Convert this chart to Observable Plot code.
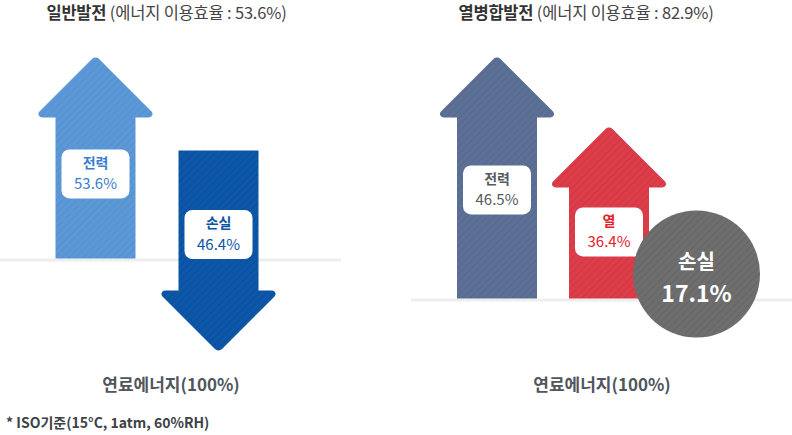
<!DOCTYPE html>
<html>
<head>
<meta charset="utf-8">
<script src="https://cdn.jsdelivr.net/npm/d3@7"></script>
<script src="https://cdn.jsdelivr.net/npm/@observablehq/plot@0.6"></script>
<style>
  html, body { margin: 0; padding: 0; background: #fff; }
  body { font-family: "Noto Sans CJK KR", "Noto Sans", sans-serif; }
  #wrap { position: relative; width: 792px; height: 435px; overflow: hidden; }
  .title { position: absolute; top: 0; height: 24px; line-height: 24px; font-size: 16.5px;
           color: #444; text-align: center; white-space: nowrap; font-weight: 400; letter-spacing: -0.2px; }
  .title b { color: #333; font-weight: 700; }
  .panel { position: absolute; top: 22px; }
  #note { position: absolute; left: 6px; top: 412px; height: 20px; line-height: 20px;
          font-size: 14px; font-weight: 700; color: #3d4247; white-space: nowrap; }
</style>
</head>
<body>
<svg width="0" height="0" style="position:absolute">
  <defs>
    <pattern id="st-lblue" width="5" height="5" patternUnits="userSpaceOnUse" patternTransform="rotate(45)">
      <rect width="5" height="5" fill="#5c98d6"/><rect width="1" height="5" fill="#5290d0"/>
    </pattern>
    <pattern id="st-dblue" width="5" height="5" patternUnits="userSpaceOnUse" patternTransform="rotate(45)">
      <rect width="5" height="5" fill="#0c57a7"/><rect width="1" height="5" fill="#0a4f9c"/>
    </pattern>
    <pattern id="st-slate" width="5" height="5" patternUnits="userSpaceOnUse" patternTransform="rotate(45)">
      <rect width="5" height="5" fill="#5c6f95"/><rect width="1" height="5" fill="#55688d"/>
    </pattern>
    <pattern id="st-red" width="5" height="5" patternUnits="userSpaceOnUse" patternTransform="rotate(45)">
      <rect width="5" height="5" fill="#dc3d49"/><rect width="1" height="5" fill="#cf3742"/>
    </pattern>
    <pattern id="st-gray" width="5" height="5" patternUnits="userSpaceOnUse" patternTransform="rotate(45)">
      <rect width="5" height="5" fill="#6e6e6e"/><rect width="1" height="5" fill="#656565"/>
    </pattern>
  </defs>
</svg>
<div id="wrap">
  <div class="title" id="t1" style="left:0;width:333px"></div>
  <div class="title" id="t2" style="left:396px;width:380px"></div>
  <div class="panel" id="p1" style="left:0"></div>
  <div class="panel" id="p2" style="left:396px"></div>
  <div id="note"></div>
</div>
<script>
// ---------- data ----------
const panelTitles = ["일반발전", "열병합발전"];
const efficiencies = [53.6, 82.9];
const fuelLabel = "연료에너지";
const fuelShare = 100;
const generalCategories = ["전력", "손실"];
const generalValues = [53.6, 46.4];
const chpCategories = ["전력", "열", "손실"];
const chpValues = [46.5, 36.4, 17.1];
const noteText = "* ISO기준(15°C, 1atm, 60%RH)";

// ---------- titles / note ----------
document.getElementById("t1").innerHTML = `<b>${panelTitles[0]}</b> (에너지 이용효율 : ${efficiencies[0]}%)`;
document.getElementById("t2").innerHTML = `<b>${panelTitles[1]}</b> (에너지 이용효율 : ${efficiencies[1]}%)`;
document.getElementById("note").textContent = noteText;

// ---------- shapes ----------
const SHAFT = 80, HEAD_W = 124, HEAD_L = 62, R_TIP = 5, R_WING = 3.5;
const arrowShape = {
  draw(ctx, l) {
    const w = SHAFT / 2, h = HEAD_W / 2, s = l - HEAD_L;
    ctx.moveTo(-w, 0);
    ctx.lineTo(-w, -s);
    ctx.arcTo(-h, -s, 0, -l, R_WING);
    ctx.arcTo(0, -l, h, -s, R_TIP);
    ctx.arcTo(h, -s, w, -s, R_WING);
    ctx.lineTo(w, -s);
    ctx.lineTo(w, 0);
    ctx.closePath();
  }
};
const boxSymbol = {
  draw(ctx) {
    const w = 34, h = 24.5, r = 8;
    ctx.moveTo(-w + r, -h);
    ctx.arcTo(w, -h, w, h, r);
    ctx.arcTo(w, h, -w, h, r);
    ctx.arcTo(-w, h, -w, -h, r);
    ctx.arcTo(-w, -h, w, -h, r);
    ctx.closePath();
  }
};

const FONT = '"Noto Sans CJK KR", "Noto Sans", sans-serif';
const LABEL_POS = 0.6; // label centre along the shaft

function labelMarks(d, offset, color) {
  return [
    Plot.dot([d], {x: "cat", y: 0, dy: offset, symbol: boxSymbol, fill: "white", stroke: "none"}),
    Plot.text([d], {x: "cat", y: 0, dy: offset - 10.5, text: "cat", fill: color, fontSize: 14, fontWeight: 700}),
    Plot.text([d], {x: "cat", y: 0, dy: offset + 10.5, text: (r) => `${r.value}%`, fill: color, fontSize: 15})
  ];
}
function fuelMark() {
  return Plot.text([fuelShare], {frameAnchor: "bottom", text: (v) => `${fuelLabel}(${v}%)`,
    fontSize: 17, fontWeight: 700, fill: "#50565c"});
}

// ---------- left panel: 일반발전 ----------
const general = generalCategories.map((cat, i) => ({cat, value: generalValues[i]}));
const gUp = general.filter((d) => d.cat !== "손실");
const gDown = general.filter((d) => d.cat === "손실");
const leftLength = {type: "linear", domain: [46.4, 53.6], range: [202, 203]};
const leftLen = d3.scaleLinear(leftLength.domain, leftLength.range);
const DOWN_SHIFT = -7;

const leftMarks = [
  Plot.ruleY([0], {stroke: "#eeeeee", strokeWidth: 3, dy: 1.5}),
  Plot.vector(gUp, {x: "cat", y: 0, length: "value", anchor: "start", shape: arrowShape,
    fill: "url(#st-lblue)", stroke: "none"}),
  Plot.vector(gDown, {x: "cat", y: 0, length: "value", anchor: "middle", rotate: 180, dy: DOWN_SHIFT,
    shape: arrowShape, fill: "url(#st-dblue)", stroke: "none"}),
  ...gUp.flatMap((d) => labelMarks(d, -LABEL_POS * (leftLen(d.value) - HEAD_L), "#3a7dcd")),
  ...gDown.flatMap((d) => labelMarks(d, -leftLen(d.value) / 2 + DOWN_SHIFT + LABEL_POS * (leftLen(d.value) - HEAD_L), "#0b55a5")),
  fuelMark()
];

const left = Plot.plot({
  width: 396, height: 380,
  marginLeft: 0, marginRight: 55, marginTop: 0, marginBottom: 12,
  style: {fontFamily: FONT, background: "transparent", overflow: "visible"},
  x: {type: "band", domain: generalCategories, range: [55, 258], paddingInner: 43 / 123, paddingOuter: 0, axis: null},
  y: {domain: [0, 100], range: [236, 0], axis: null},
  length: leftLength,
  marks: leftMarks
});
document.getElementById("p1").appendChild(left);

// ---------- right panel: 열병합발전 ----------
const chp = chpCategories.map((cat, i) => ({cat, value: chpValues[i]}));
const cArrows = chp.filter((d) => d.cat !== "손실");
const cLoss = chp.filter((d) => d.cat === "손실");
const rightLength = {type: "linear", domain: [36.4, 46.5], range: [173, 243]};
const rightLen = d3.scaleLinear(rightLength.domain, rightLength.range);
const arrowFill = {"전력": "url(#st-slate)", "열": "url(#st-red)"};
const labelColor = {"전력": "#555a60", "열": "#e3202b"};
const CIRCLE_SHIFT = -24.5;

const rightMarks = [
  Plot.ruleY([0], {stroke: "#eeeeee", strokeWidth: 3, dy: 1.5}),
  ...cArrows.map((d) => Plot.vector([d], {x: "cat", y: 0, length: "value", anchor: "start", shape: arrowShape,
    fill: arrowFill[d.cat], stroke: "none"})),
  ...cArrows.flatMap((d) => labelMarks(d, -LABEL_POS * (rightLen(d.value) - HEAD_L), labelColor[d.cat])),
  Plot.dot(cLoss, {x: "cat", y: 0, dx: CIRCLE_SHIFT, dy: CIRCLE_SHIFT, r: 63.5, fill: "url(#st-gray)",
    stroke: "none", ariaLabel: "loss-circle"}),
  Plot.text(cLoss, {x: "cat", y: 0, dx: CIRCLE_SHIFT, dy: CIRCLE_SHIFT - 11, text: "cat", fill: "white",
    fontSize: 20, fontWeight: 700}),
  Plot.text(cLoss, {x: "cat", y: 0, dx: CIRCLE_SHIFT, dy: CIRCLE_SHIFT + 20.5, text: (d) => `${d.value}%`,
    fill: "white", fontSize: 23, fontWeight: 700}),
  fuelMark()
];

const right = Plot.plot({
  width: 396, height: 380,
  marginLeft: 15, marginRight: 0, marginTop: 0, marginBottom: 12,
  style: {fontFamily: FONT, background: "transparent", overflow: "visible"},
  x: {type: "band", domain: chpCategories, range: [60, 366], paddingInner: 33 / 113, paddingOuter: 0, axis: null},
  y: {domain: [0, 100], range: [276, 0], axis: null},
  length: rightLength,
  marks: rightMarks
});
document.getElementById("p2").appendChild(right);
d3.select(right).selectAll('g[aria-label="loss-circle"]')
  .style("filter", "drop-shadow(0px 4px 5px rgba(0,0,0,0.28))");
</script>
</body>
</html>
